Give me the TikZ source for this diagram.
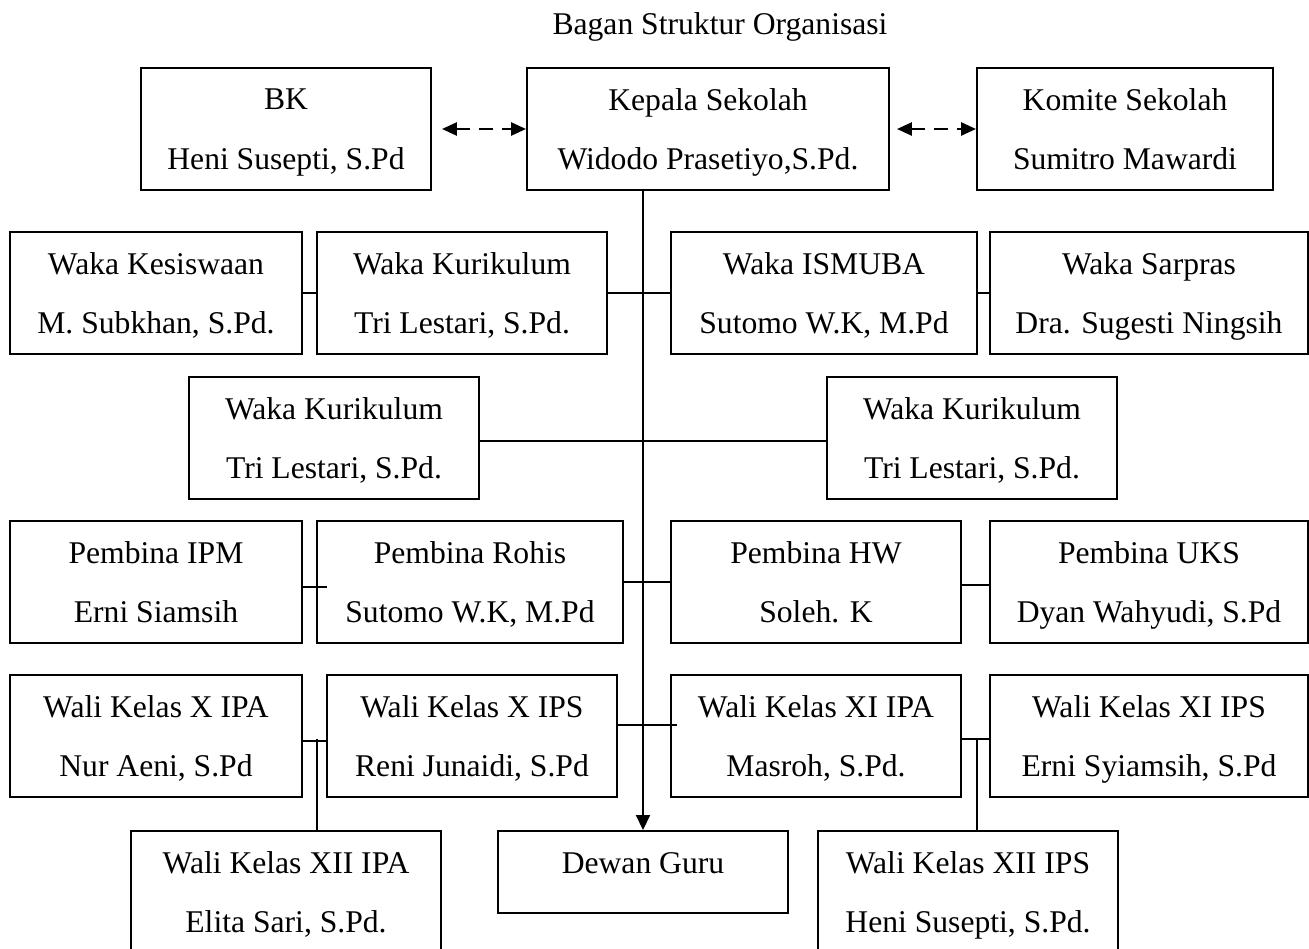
\documentclass[tikz,border=0pt]{standalone}
\usepackage{fontspec}
\setmainfont{Liberation Serif}
\usetikzlibrary{calc,arrows.meta}
\tikzset{
	kotak/.style 2 args={draw, line width=1.1pt, minimum width=#1*0.02cm, minimum height=#2*0.02cm, inner sep=0pt, align=center, text depth=0pt, font=\fontsize{18}{34}\selectfont},
	garis/.style={line width=1.1pt},
	panah/.style={line width=1.5pt, dash pattern=on 8pt off 5pt, {Triangle[length=0.3cm,width=0.26cm]}-{Triangle[length=0.3cm,width=0.26cm]}},
}
\begin{document}
\begin{tikzpicture}[x=0.02cm, y=-0.02cm]
			%%%%% START %%%%%
			\useasboundingbox (0,0) rectangle (1309,949);
			
			\node[font=\fontsize{18}{22}\selectfont] (judul) at (720,27) {Bagan Struktur Organisasi};
			
			% baris 1
			\node[kotak={290}{122}] (bk) at (286,129) {BK\\Heni Susepti, S.Pd};
			\node[kotak={362}{122}] (kepala) at (708,129) {Kepala Sekolah\\Widodo Prasetiyo,S.Pd.};
			\node[kotak={296}{122}] (komite) at (1125,129) {Komite Sekolah\\Sumitro Mawardi};
			
			% baris 2
			\node[kotak={292}{122}] (kesiswaan) at (156,293) {Waka Kesiswaan\\M. Subkhan, S.Pd.};
			\node[kotak={290}{122}] (kurikulum) at (462,293) {Waka Kurikulum\\Tri Lestari, S.Pd.};
			\node[kotak={306}{122}] (ismuba) at (824,293) {Waka ISMUBA\\Sutomo W.K, M.Pd};
			\node[kotak={318}{122}] (sarpras) at (1149,293) {Waka Sarpras\\Dra. Sugesti Ningsih};
			
			% baris 3
			\node[kotak={290}{122}] (kurkiri) at (334,438) {Waka Kurikulum\\Tri Lestari, S.Pd.};
			\node[kotak={290}{122}] (kurkanan) at (972,438) {Waka Kurikulum\\Tri Lestari, S.Pd.};
			
			% baris 4
			\node[kotak={292}{122}] (ipm) at (156,582) {Pembina IPM\\Erni Siamsih};
			\node[kotak={306}{122}] (rohis) at (470,582) {Pembina Rohis\\Sutomo W.K, M.Pd};
			\node[kotak={290}{122}] (hw) at (816,582) {Pembina HW\\Soleh. K};
			\node[kotak={318}{122}] (uks) at (1149,582) {Pembina UKS\\Dyan Wahyudi, S.Pd};
			
			% baris 5
			\node[kotak={292}{122}] (xipa) at (156,736) {Wali Kelas X IPA\\Nur Aeni, S.Pd};
			\node[kotak={290}{122}] (xips) at (472,736) {Wali Kelas X IPS\\Reni Junaidi, S.Pd};
			\node[kotak={290}{122}] (xiipa) at (816,736) {Wali Kelas XI IPA\\Masroh, S.Pd.};
			\node[kotak={318}{122}] (xiips) at (1149,736) {Wali Kelas XI IPS\\Erni Syiamsih, S.Pd};
			
			% baris 6
			\node[kotak={310}{122}] (xiiipa) at (286,892) {Wali Kelas XII IPA\\Elita Sari, S.Pd.};
			\node[kotak={290}{82}, text height=0.42cm, text depth=0.36cm] (dewan) at (643,872) {Dewan Guru};
			\node[kotak={300}{122}] (xiiips) at (968,892) {Wali Kelas XII IPS\\Heni Susepti, S.Pd.};
			
			% garis
			\draw[panah, shorten <=0.2cm] (bk.east) -- (kepala.west);
			\draw[panah, shorten <=0.14cm] (kepala.east) -- (komite.west);
			\draw[line width=1.1pt, -{Triangle[length=0.3cm,width=0.28cm]}] (kepala.south -| dewan.north) -- (dewan.north);
			
			\draw[garis] (kesiswaan.east) -- (kurikulum.west);
			\draw[garis] (kurikulum.east) -- (ismuba.west);
			\draw[garis] (ismuba.east) -- (sarpras.west);
			
			\draw[garis] ([yshift=-0.06cm]kurkiri.east) -- ([yshift=-0.06cm]kurkanan.west);
			
			\draw[garis] ([yshift=-0.1cm]ipm.east) -- ([xshift=0.22cm,yshift=-0.1cm]rohis.west);
			\draw[garis] (rohis.east) -- (hw.west);
			\draw[garis] ([yshift=-0.06cm]hw.east) -- ([yshift=-0.06cm]uks.west);
			
			\draw[garis] ([yshift=-0.1cm]xipa.east) -- ([yshift=-0.1cm]xips.west);
			\coordinate (kiri) at ($(xipa.east)!0.6!(xips.west)+(0,3)$);
			\draw[garis] (kiri) -- (kiri |- xiiipa.north);
			\draw[garis] ([yshift=0.22cm]xips.east) -- ([xshift=0.14cm,yshift=0.22cm]xiipa.west);
			\draw[garis] ([yshift=-0.06cm]xiipa.east) -- ([yshift=-0.06cm]xiips.west);
			\coordinate (kanan) at ($(xiipa.east)!0.55!(xiips.west)+(0,3)$);
			\draw[garis] (kanan) -- (kanan |- xiiips.north);
			%%%%% END %%%%%
\end{tikzpicture}
\end{document}
